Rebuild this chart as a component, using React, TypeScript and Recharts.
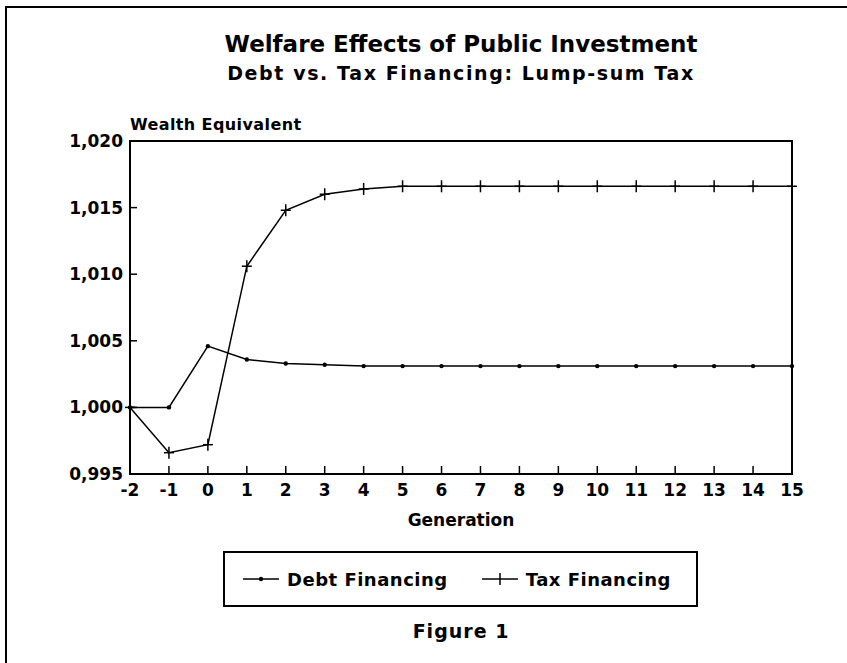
import React from 'react';
import {
  LineChart,
  Line,
  XAxis,
  YAxis,
  ReferenceArea,
} from 'recharts';

const generations = [-2, -1, 0, 1, 2, 3, 4, 5, 6, 7, 8, 9, 10, 11, 12, 13, 14, 15];
const debtFinancing = [
  1.0, 1.0, 1.0046, 1.0036, 1.0033, 1.0032, 1.0031, 1.0031, 1.0031,
  1.0031, 1.0031, 1.0031, 1.0031, 1.0031, 1.0031, 1.0031, 1.0031, 1.0031,
];
const taxFinancing = [
  1.0, 0.9966, 0.9972, 1.0106, 1.0148, 1.016, 1.0164, 1.0166, 1.0166,
  1.0166, 1.0166, 1.0166, 1.0166, 1.0166, 1.0166, 1.0166, 1.0166, 1.0166,
];
const yTicks = [0.995, 1.0, 1.005, 1.01, 1.015, 1.02];
const seriesNames = ['Debt Financing', 'Tax Financing'];

const FONT = '"DejaVu Sans", sans-serif';

const chartData = generations.map((g, i) => ({
  gen: g,
  debt: debtFinancing[i],
  tax: taxFinancing[i],
}));

const fmtY = (v: number) => v.toFixed(3).replace('.', ',');

const XTick = ({ x, y, payload }: any) => (
  <g>
    <line x1={x} x2={x} y1={y} y2={y - 8} stroke="#000" strokeWidth={1.5} />
    <text x={x} y={y + 22} textAnchor="middle" fontFamily={FONT} fontWeight="bold" fontSize={17} fill="#000">
      {payload.value}
    </text>
  </g>
);

const YTick = ({ x, y, payload }: any) => (
  <g>
    <line x1={x} x2={x + 7} y1={y} y2={y} stroke="#000" strokeWidth={1.5} />
    <text x={x - 7} y={y + 6} textAnchor="end" fontFamily={FONT} fontWeight="bold" fontSize={17} fill="#000">
      {fmtY(payload.value)}
    </text>
  </g>
);

const DebtDot = ({ cx, cy }: any) => <circle cx={cx} cy={cy} r={2.2} fill="#000" />;

const PlusDot = ({ cx, cy }: any) => (
  <g>
    <line x1={cx - 5} x2={cx + 5} y1={cy} y2={cy} stroke="#000" strokeWidth={1.5} />
    <line x1={cx} x2={cx} y1={cy - 6} y2={cy + 6} stroke="#000" strokeWidth={1.5} />
  </g>
);

const LegendBox = () => (
  <div
    style={{
      position: 'absolute',
      left: 223,
      top: 551,
      width: 471,
      height: 52,
      border: '2px solid #000',
      display: 'flex',
      alignItems: 'center',
      fontFamily: FONT,
      fontWeight: 'bold',
      fontSize: 18,
      color: '#000',
    }}
  >
    <svg width={36} height={14} style={{ marginLeft: 18 }}>
      <line x1={0} x2={36} y1={7} y2={7} stroke="#000" strokeWidth={1.5} />
      <circle cx={18} cy={7} r={2.2} fill="#000" />
    </svg>
    <span style={{ marginLeft: 8, letterSpacing: 0.5 }}>{seriesNames[0]}</span>
    <svg width={36} height={14} style={{ marginLeft: 34 }}>
      <line x1={0} x2={36} y1={7} y2={7} stroke="#000" strokeWidth={1.5} />
      <line x1={18} x2={18} y1={1} y2={13} stroke="#000" strokeWidth={1.5} />
    </svg>
    <span style={{ marginLeft: 8, letterSpacing: 0.5 }}>{seriesNames[1]}</span>
  </div>
);

const textStyle: React.CSSProperties = {
  position: 'absolute',
  fontFamily: FONT,
  fontWeight: 'bold',
  color: '#000',
  whiteSpace: 'nowrap',
  lineHeight: 1,
};

export default function App() {
  return (
    <div
      style={{
        position: 'absolute',
        left: 0,
        top: 0,
        width: 847,
        height: 663,
        overflow: 'hidden',
        background: '#fff',
      }}
    >
      {/* page frame */}
      <div
        style={{
          position: 'absolute',
          left: 5,
          top: 6,
          width: 900,
          height: 700,
          border: '2px solid #000',
        }}
      />
      <div style={{ ...textStyle, left: 0, width: 922, top: 33, textAlign: 'center', fontSize: 23 }}>
        Welfare Effects of Public Investment
      </div>
      <div
        style={{ ...textStyle, left: 0, width: 922, top: 64, textAlign: 'center', fontSize: 19, letterSpacing: 1.6 }}
      >
        Debt vs. Tax Financing: Lump-sum Tax
      </div>
      <div style={{ ...textStyle, left: 130, top: 117, fontSize: 16, letterSpacing: 0.4 }}>Wealth Equivalent</div>
      <div style={{ ...textStyle, left: 0, width: 922, top: 512, textAlign: 'center', fontSize: 17 }}>
        Generation
      </div>
      <div style={{ ...textStyle, left: 0, width: 922, top: 622, textAlign: 'center', fontSize: 19, letterSpacing: 1 }}>
        Figure 1
      </div>

      <div style={{ position: 'absolute', left: 0, top: 0 }}>
        <LineChart
          width={847}
          height={663}
          data={chartData}
          margin={{ top: 141, right: 55, bottom: 159, left: 70 }}
        >
          <XAxis
            dataKey="gen"
            type="number"
            domain={[-2, 15]}
            ticks={generations}
            interval={0}
            height={30}
            tickSize={0}
            tickMargin={0}
            tick={<XTick />}
            axisLine={{ stroke: '#000', strokeWidth: 2 }}
            tickLine={false}
          />
          <YAxis
            type="number"
            domain={[0.995, 1.02]}
            ticks={yTicks}
            interval={0}
            width={60}
            tickSize={0}
            tickMargin={0}
            tick={<YTick />}
            axisLine={{ stroke: '#000', strokeWidth: 2 }}
            tickLine={false}
            allowDataOverflow
          />
          <ReferenceArea
            x1={-2}
            x2={15}
            y1={0.995}
            y2={1.02}
            fill="none"
            stroke="#000"
            strokeWidth={2}
            ifOverflow="visible"
          />
          <Line
            dataKey="debt"
            name={seriesNames[0]}
            stroke="#000"
            strokeWidth={1.5}
            dot={<DebtDot />}
            activeDot={false}
            isAnimationActive={false}
          />
          <Line
            dataKey="tax"
            name={seriesNames[1]}
            stroke="#000"
            strokeWidth={1.5}
            dot={<PlusDot />}
            activeDot={false}
            isAnimationActive={false}
          />
        </LineChart>
      </div>
      <LegendBox />
    </div>
  );
}
